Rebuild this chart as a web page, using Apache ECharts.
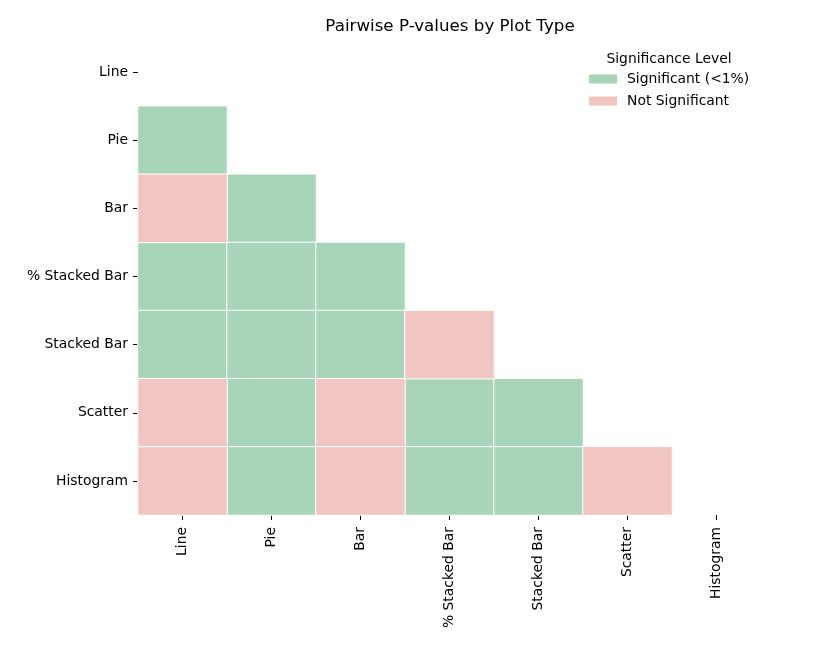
<!DOCTYPE html>
<html><head><meta charset="utf-8">
<script src="https://cdn.jsdelivr.net/npm/echarts@6/dist/echarts.min.js"></script>
<style>html,body{margin:0;padding:0;background:#fff}#c{width:830px;height:647px}</style>
</head><body><div id="c"></div>
<script>
const plotTypes = ['Line', 'Pie', 'Bar', '% Stacked Bar', 'Stacked Bar', 'Scatter', 'Histogram'];
// lower-triangle significance flags per row (1 = significant <1%, 0 = not significant)
const sigPie = [1];
const sigBar = [0, 1];
const sigPctStacked = [1, 1, 1];
const sigStacked = [1, 1, 1, 0];
const sigScatter = [0, 1, 0, 1, 1];
const sigHistogram = [0, 1, 0, 1, 1, 0];
const rows = [[], sigPie, sigBar, sigPctStacked, sigStacked, sigScatter, sigHistogram];
const seriesNames = ['Significant (<1%)', 'Not Significant'];
const colors = ['#a8d5b9', '#f1c6c2'];

const sigData = [], nsData = [];
rows.forEach((r, ri) => r.forEach((v, ci) => {
  (v === 1 ? sigData : nsData).push([ci, ri, v]);
}));

const font = 'DejaVu Sans';
const chart = echarts.init(document.getElementById('c'), null, {renderer: 'canvas'});
chart.setOption({
  backgroundColor: '#fff',
  animation: false,
  textStyle: {fontFamily: font},
  title: [{
    text: 'Pairwise P-values by Plot Type', left: 445, top: 13, textAlign: 'center',
    textStyle: {fontFamily: font, fontSize: 16.7, fontWeight: 'normal', color: '#000'}
  }, {
    text: 'Significance Level', left: 664, top: 47, textAlign: 'center',
    textStyle: {fontFamily: font, fontSize: 13.9, fontWeight: 'normal', color: '#000'}
  }],
  legend: {
    orient: 'vertical', left: 587, top: 72, padding: 0, itemWidth: 30, itemHeight: 11, itemGap: 8,
    icon: 'rect', textStyle: {fontFamily: font, fontSize: 13.9, color: '#000', padding: [0, 0, 0, 4]},
    data: seriesNames
  },
  grid: {left: 138, right: 69, top: 38, bottom: 132},
  xAxis: {
    type: 'category', data: plotTypes,
    axisLine: {show: false}, splitLine: {show: false}, splitArea: {show: false},
    axisTick: {show: true, alignWithLabel: true, length: 5, lineStyle: {color: '#000'}},
    axisLabel: {rotate: 90, fontFamily: font, fontSize: 13.9, color: '#000', margin: 12, interval: 0}
  },
  yAxis: {
    type: 'category', data: plotTypes, inverse: true,
    axisLine: {show: false}, splitLine: {show: false}, splitArea: {show: false},
    axisTick: {show: true, alignWithLabel: true, length: 5, lineStyle: {color: '#000'}},
    axisLabel: {fontFamily: font, fontSize: 13.9, color: '#000', margin: 10, interval: 0}
  },
  series: [{
    name: seriesNames[0], type: 'heatmap', data: sigData,
    itemStyle: {color: colors[0], borderColor: '#fff', borderWidth: 1}, emphasis: {disabled: true}
  }, {
    name: seriesNames[1], type: 'heatmap', data: nsData,
    itemStyle: {color: colors[1], borderColor: '#fff', borderWidth: 1}, emphasis: {disabled: true}
  }]
});
</script></body></html>
